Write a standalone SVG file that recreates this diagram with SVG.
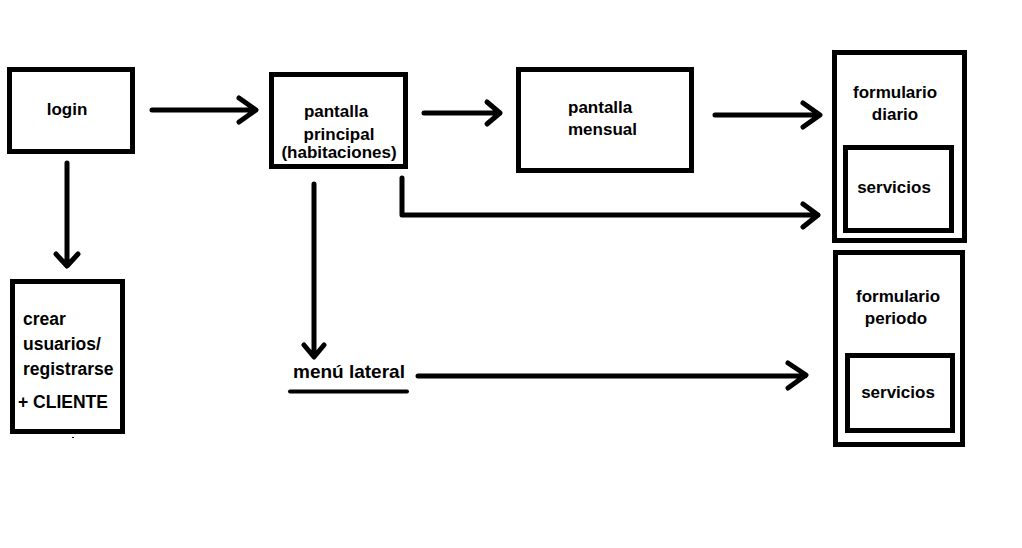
<svg xmlns="http://www.w3.org/2000/svg" width="1022" height="548" viewBox="0 0 1022 548">
<style>
.box{fill:none;stroke:#000;stroke-width:5}
.ln{fill:none;stroke:#000;stroke-width:5;stroke-linecap:round;stroke-linejoin:round}
.t{font-family:"Liberation Sans",Arial,sans-serif;font-weight:bold;font-size:17px;fill:#000}
.c{text-anchor:middle}
.big{font-size:19px}
.mid{font-size:17.5px}
</style>
<rect width="1022" height="548" fill="#fff"/>
<g id="connectors">
<path class="ln" d="M152,110 H255 M239,98 L256,110 L239,122"/>
<path class="ln" d="M424,113 H500 M487,102 L500,113 L487,124"/>
<path class="ln" d="M715,115 H819 M803,103 L820,115 L803,127"/>
<path class="ln" d="M402,178 V215 H818 M803,204 L818,215 L803,227"/>
<path class="ln" d="M314,184 V356 M304,345 L314,357 L324,345"/>
<path class="ln" d="M67,163 V265 M56,254 L67,266 L78,254"/>
<path class="ln" d="M418,376 H805 M788,363 L806,375 L788,388"/>
</g>
<g id="login">
<rect class="box" x="9.5" y="69.5" width="123" height="82"/>
<text class="t c" x="67" y="115">login</text>
</g>
<g id="pantalla-principal">
<rect class="box" x="271.5" y="74.5" width="134" height="92"/>
<text class="t c" x="336" y="117">pantalla</text>
<text class="t c" x="339" y="140">principal</text>
<text class="t c" x="339" y="158">(habitaciones)</text>
</g>
<g id="pantalla-mensual">
<rect class="box" x="518.5" y="69.5" width="173" height="101"/>
<text class="t" x="568" y="113">pantalla</text>
<text class="t" x="568" y="135">mensual</text>
</g>
<g id="formulario-diario">
<rect class="box" x="834.5" y="52.5" width="130" height="188"/>
<text class="t c" x="895" y="98">formulario</text>
<text class="t c" x="895" y="120">diario</text>
<g id="servicios-diario">
<rect class="box" x="845.5" y="147.5" width="106" height="83"/>
<text class="t c" x="894" y="193">servicios</text>
</g>
</g>
<g id="formulario-periodo">
<rect class="box" x="835.5" y="252.5" width="127" height="192"/>
<text class="t c" x="898" y="302">formulario</text>
<text class="t c" x="896" y="324">periodo</text>
<g id="servicios-periodo">
<rect class="box" x="847.5" y="355.5" width="105" height="75"/>
<text class="t c" x="898" y="398">servicios</text>
</g>
</g>
<g id="crear-usuarios">
<rect class="box" x="12.5" y="281.5" width="110" height="150"/>
<text class="t mid" x="23" y="325">crear</text>
<text class="t mid" x="23" y="350">usuarios/</text>
<text class="t mid" x="23" y="375">registrarse</text>
<text class="t mid" x="18" y="408">+ CLIENTE</text>
<rect x="72" y="437" width="2" height="1" fill="#000"/>
</g>
<g id="menu-lateral">
<text class="t big" x="293" y="378">menú lateral</text>
<path d="M290,391.5 H407" stroke="#000" stroke-width="4" stroke-linecap="round"/>
</g>
</svg>
